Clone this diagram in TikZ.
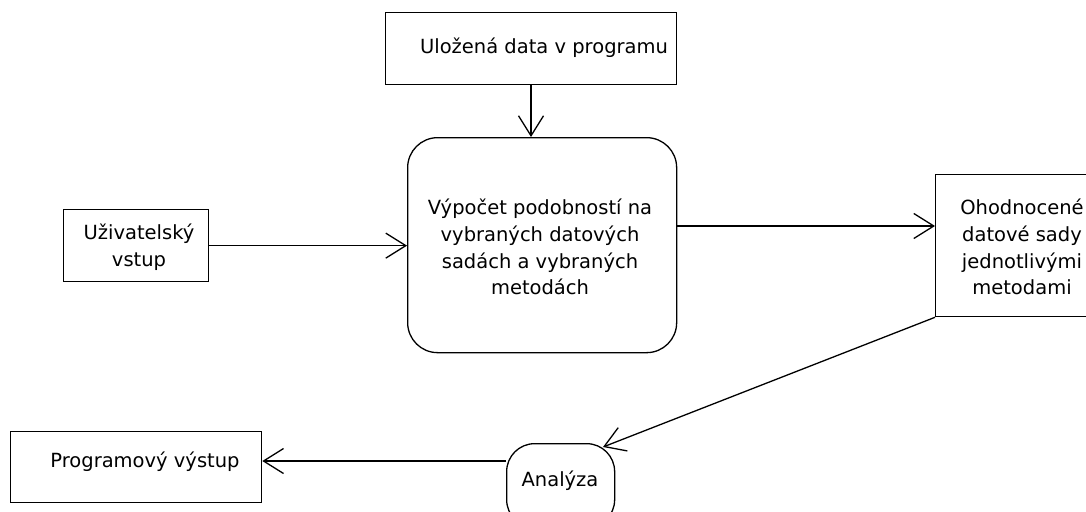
\documentclass[tikz,border=0pt]{standalone}
\usepackage{fontspec}
\setmainfont{DejaVu Sans}
\usetikzlibrary{arrows.meta}
\begin{document}
\begin{tikzpicture}[x=1pt,y=-1pt,
  box/.style={draw,line width=1.3pt,inner sep=0pt,anchor=north west},
  lbl/.style={font=\fontsize{19.5}{26.7}\selectfont,inner sep=0pt},
  conn/.style={line width=1.3pt,-{Straight Barb[length=20pt,width=25pt,line width=1.3pt]}},
  plain/.style={line width=1.3pt}]
\useasboundingbox (0,0) rectangle (1086,511);
\clip (0,0) rectangle (1086,511);
% boxes
\node[box,minimum width=291pt,minimum height=72pt] (data) at (385,12) {};
\node[box,rounded corners=30pt,minimum width=269pt,minimum height=215pt] (calc) at (407,137) {};
\node[box,minimum width=145pt,minimum height=72pt] (user) at (63,209) {};
\node[box,minimum width=170pt,minimum height=142pt] (res) at (935,174) {};
\node[box,rounded corners=28pt,minimum width=108pt,minimum height=84pt] (ana) at (506,443) {};
\node[box,minimum width=251pt,minimum height=71pt] (out) at (10,431) {};
% labels
\node[lbl] (tdata) at (544,48) {Uložená data v programu};
\node[lbl,align=center] (tcalc) at (540,247) {Výpočet podobností na\\vybraných datových\\sadách a vybraných\\metodách};
\node[lbl,align=center] (tuser) at (139,247) {Uživatelský\\vstup};
\node[lbl,align=center] (tres) at (1022,247) {Ohodnocené\\datové sady\\ jednotlivými\\metodami};
\node[lbl] (tana) at (560,481) {Analýza};
\node[lbl] (tout) at (145,462) {Programový výstup};
% connectors
\coordinate (anatip) at (603,447);
\draw[conn] (data.south -| 531,0) -- (calc.north -| 531,0);
\draw[conn] (user.east) -- (calc.west |- user.east);
\draw[conn] (calc.east |- 0,226) -- (res.west |- 0,226);
\draw[conn] (res.south west) -- (anatip);
\draw[conn] (ana.west |- 0,461) -- (out.east |- 0,461);
\end{tikzpicture}
\end{document}
